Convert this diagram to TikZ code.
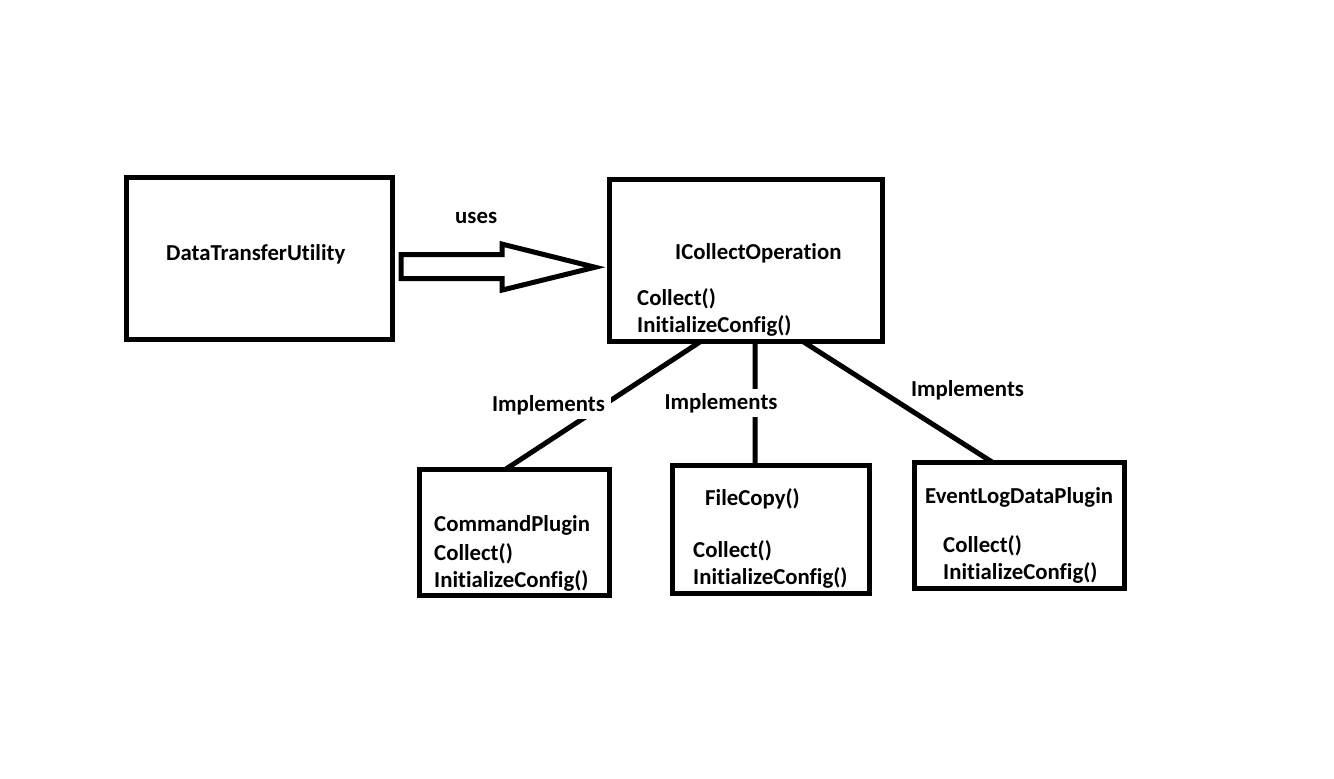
\documentclass[tikz,border=0pt]{standalone}
\usepackage{fontspec}
\setmainfont{Carlito}[Ligatures=NoCommon]
\usetikzlibrary{calc}

\tikzset{
  box/.style={draw, line width=5pt, inner sep=0pt, outer sep=0pt},
  label/.style={inner sep=0pt, font=\fontsize{22.8}{27}\selectfont\bfseries},
  linklabel/.style={label, fill=white, inner xsep=6pt, inner ysep=4pt},
  link/.style={line width=5pt},
  hollowarrow/.style={line width=5pt, line join=miter, fill=white}
}

\begin{document}
\begin{tikzpicture}[x=1pt, y=-1pt]
  \path[use as bounding box, fill=white] (0,0) rectangle (1334,779);

  % class boxes
  \node[box, minimum width=266pt,   minimum height=162pt]   (dtu)  at (259.5, 258.6)  {};
  \node[box, minimum width=273.5pt, minimum height=162.5pt] (icol) at (745.75, 260.25) {};
  \node[box, minimum width=190pt,   minimum height=126pt]   (cmd)  at (514, 532)      {};
  \node[box, minimum width=197.7pt, minimum height=127.7pt] (fc)   at (770.85, 529.15) {};
  \node[box, minimum width=210pt,   minimum height=126pt]   (ev)   at (1019.5, 525)   {};

  % box contents
  \node[label, anchor=base west] (dtuname) at (166, 260) {DataTransferUtility};

  \node[label, anchor=base west] (icolname) at (675, 259) {ICollectOperation};
  \node[label, anchor=base west] (icolm1)   at (637, 305) {Collect()};
  \node[label, anchor=base west] (icolm2)   at (637, 332) {InitializeConfig()};

  \node[label, anchor=base west] (cmdname) at (434, 531) {CommandPlugin};
  \node[label, anchor=base west] (cmdm1)   at (434, 560) {Collect()};
  \node[label, anchor=base west] (cmdm2)   at (434, 587) {InitializeConfig()};

  \node[label, anchor=base west] (fcname) at (705, 505) {FileCopy()};
  \node[label, anchor=base west] (fcm1)   at (693, 557) {Collect()};
  \node[label, anchor=base west] (fcm2)   at (693, 584) {InitializeConfig()};

  \node[label, anchor=base west] (evname) at (925, 503) {EventLogDataPlugin};
  \node[label, anchor=base west] (evm1)   at (943, 552) {Collect()};
  \node[label, anchor=base west] (evm2)   at (943, 579) {InitializeConfig()};

  % "uses" association: hollow block arrow
  \coordinate (tail) at ($(dtu.east)+(8.5,8)$);
  \coordinate (tip)  at ($(icol.west)+(-14,7)$);
  \draw[hollowarrow]
    ($(tail)+(0,-12)$) -- ++(101,0) -- ++(0,-10.5) -- (tip)
    -- ($(tail)+(101,23.5)$) -- ++(0,-11.5) -- ($(tail)+(0,12)$) -- cycle;
  \node[label, anchor=base west] (uses) at (455, 223) {uses};

  % implementation links
  \draw[link] ($(icol.south west)!0.335!(icol.south east)$) -- ($(cmd.north west)!0.458!(cmd.north east)$);
  \draw[link] ($(icol.south west)!0.534!(icol.south east)$) -- ($(fc.north west)!0.42!(fc.north east)$);
  \draw[link] ($(icol.south west)!0.709!(icol.south east)$) -- ($(ev.north west)!0.369!(ev.north east)$);

  \node[linklabel, anchor=base] (impl1) at (548.5, 411) {Implements};
  \node[linklabel, anchor=base] (impl2) at (721, 409)   {Implements};
  \node[label, anchor=base]     (impl3) at (967.5, 396) {Implements};
\end{tikzpicture}
\end{document}
